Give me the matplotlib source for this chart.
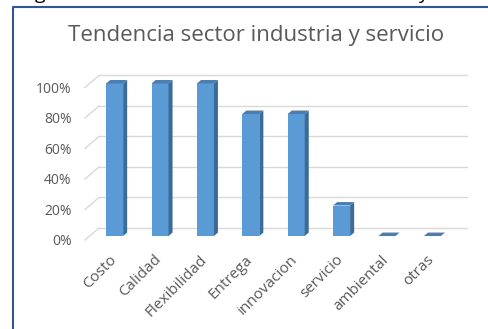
import matplotlib
matplotlib.use("Agg")
import matplotlib.pyplot as plt
from matplotlib.patches import Polygon
from matplotlib.lines import Line2D
from matplotlib.transforms import ScaledTranslation

categories = ["Costo", "Calidad", "Flexibilidad", "Entrega", "innovacion",
              "servicio", "ambiental", "otras"]
values = [1.0, 1.0, 1.0, 0.8, 0.8, 0.2, 0.0, 0.0]
y_ticks = [0.0, 0.2, 0.4, 0.6, 0.8, 1.0]
y_tick_labels = ["0%", "20%", "40%", "60%", "80%", "100%"]
title = "Tendencia sector industria y servicio"

FRONT = "#5B9BD5"
SIDE = "#3D6B97"
TOP = "#4A7DB0"
GRID = "#D9D9D9"
TEXT = "#595959"
FRAME = "#2F5597"

plt.rcParams["font.family"] = ["Open Sans", "DejaVu Sans"]

# depth of the pseudo-3D box, in data units
DX, DY = 0.308, 0.0787
BAR_W = 0.374
D_FRONT, D_BACK = 0.33, 0.62
X_LO, X_HI = -0.55, 7.55

fig = plt.figure(figsize=(4.89, 3.29), dpi=100)
ax = fig.add_axes([80 / 489, 1 - 245 / 329, 395 / 489, 185 / 329])
ax.set_xlim(-0.661, 8.04)
ax.set_ylim(-0.0328, 1.180)
for s in ax.spines.values():
    s.set_visible(False)
ax.patch.set_alpha(0)

# back-wall gridlines and left-side diagonals
for v in y_ticks:
    ax.plot([X_LO + DX, X_HI + DX], [v + DY, v + DY], color=GRID, lw=1.0, zorder=1)
    ax.plot([X_LO, X_LO + DX], [v, v + DY], color=GRID, lw=1.0, zorder=1)

# bars: front face, side face, top face
ddx = (D_BACK - D_FRONT) * DX
ddy = (D_BACK - D_FRONT) * DY
y0 = D_FRONT * DY
for i, v in enumerate(values):
    xc = i + D_FRONT * DX
    xl, xr = xc - BAR_W / 2, xc + BAR_W / 2
    if v > 0:
        ax.bar(xc, v, width=BAR_W, bottom=y0, color=FRONT, zorder=3, linewidth=0)
        ax.add_patch(Polygon([(xr, y0), (xr + ddx, y0 + ddy), (xr + ddx, y0 + ddy + v),
                              (xr, y0 + v)], closed=True, facecolor=SIDE,
                             edgecolor="none", zorder=3))
    ax.add_patch(Polygon([(xl, y0 + v), (xr, y0 + v), (xr + ddx, y0 + v + ddy),
                          (xl + ddx, y0 + v + ddy)], closed=True, facecolor=TOP,
                         edgecolor="none", zorder=4))

ax.set_yticks(y_ticks)
ax.set_yticklabels(y_tick_labels)
ax.tick_params(axis="y", length=0, pad=6, labelsize=10, labelcolor=TEXT)

ax.set_xticks(range(len(categories)))
ax.set_xticklabels(categories, rotation=45, ha="right", va="center",
                   rotation_mode="anchor")
ax.tick_params(axis="x", length=0, pad=9, labelsize=11, labelcolor=TEXT)
shift = ScaledTranslation(4 / 100, 0, fig.dpi_scale_trans)
for lab in ax.get_xticklabels():
    lab.set_transform(lab.get_transform() + shift)

fig.text(256 / 489, 1 - 36 / 329, title, ha="center", va="center",
         fontsize=16, color=TEXT)

# frame around the chart
fig.add_artist(Line2D([13.5 / 489, 13.5 / 489, 1.0], [0.0, 1 - 7 / 329, 1 - 7 / 329],
                      transform=fig.transFigure, color=FRAME, lw=1.5))

# descenders of the caption line above the frame
fig.text(40 / 489, 1 + 1 / 329, "g", ha="center", va="baseline", fontsize=14, color="black")
fig.text(423 / 489, 1 + 1 / 329, "y", ha="center", va="baseline", fontsize=14, color="black")

fig.savefig("out.png", dpi=100)
